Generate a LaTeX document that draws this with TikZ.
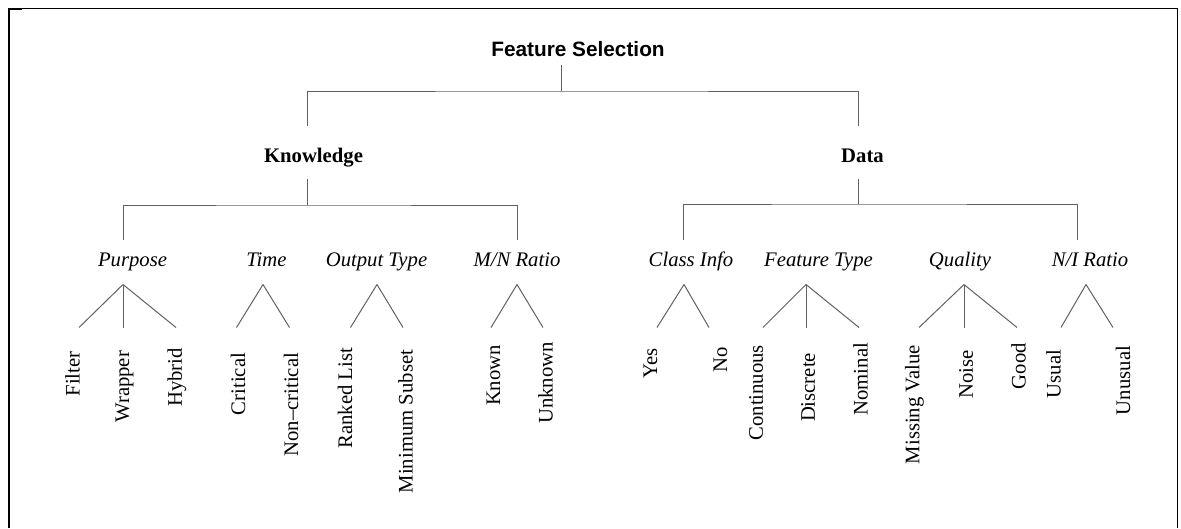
\documentclass[tikz,border=0pt]{standalone}
\usepackage{fontspec}
\setmainfont{Liberation Serif}
\newfontfamily\headfont{Liberation Sans}
\begin{document}
\begin{tikzpicture}[x=1pt,y=-1pt,
  every node/.style={inner sep=0pt, outer sep=0pt, text=black},
  rootlabel/.style={font=\headfont\bfseries\fontsize{20.8}{24}\selectfont, anchor=base},
  branchlabel/.style={font=\bfseries\fontsize{20.7}{24}\selectfont, anchor=base},
  catlabel/.style={font=\itshape\fontsize{20.7}{24}\selectfont, anchor=base},
  leaflabel/.style={font=\fontsize{20.7}{24}\selectfont, rotate=90, anchor=east},
  link/.style={draw=black!62, line width=1pt},
  frameline/.style={draw=black, line width=1.6pt}]

% page area
\useasboundingbox (0,0) rectangle (1181,528);

% open frame (left, top and right sides)
\draw[frameline] (9,528) -- (9,8.5) -- (1177.5,8.5) -- (1177.5,528);
\draw[frameline, line width=2.2pt] (8,8.8) -- (22,8.8);

% ---------- labels ----------
\node[rootlabel] (fs) at (578,56.5) {Feature Selection};
\node[branchlabel] (kn) at (313.5,162) {Knowledge};
\node[branchlabel] (da) at (862.5,162) {Data};

\node[catlabel] (pur) at (132.5,266.5) {Purpose};
\node[catlabel] (tim) at (266.5,266.5) {Time};
\node[catlabel] (out) at (376.5,266.5) {Output Type};
\node[catlabel] (mn)  at (517,266.5)   {M/N Ratio};
\node[catlabel] (ci)  at (691,266.5)   {Class Info};
\node[catlabel] (ft)  at (818.5,266.5) {Feature Type};
\node[catlabel] (qu)  at (960,266.5)   {Quality};
\node[catlabel] (ni)  at (1090,266.5)  {N/I Ratio};

\node[leaflabel] (filter)  at (72.5,351.5)  {Filter};
\node[leaflabel] (wrapper) at (124.5,351)   {Wrapper};
\node[leaflabel] (hybrid)  at (177,348)     {Hybrid};
\node[leaflabel] (crit)    at (238,353)     {Critical};
\node[leaflabel] (ncrit)   at (291,353)     {Non--critical};
\node[leaflabel] (ranked)  at (345,348)     {Ranked List};
\node[leaflabel] (minsub)  at (405.5,350)   {Minimum Subset};
\node[leaflabel] (known)   at (493.5,345)   {Known};
\node[leaflabel] (unknown) at (545.5,342)   {Unknown};
\node[leaflabel] (yes)     at (650.5,348)   {Yes};
\node[leaflabel] (no)      at (720.5,347)   {No};
\node[leaflabel] (cont)    at (756,345)     {Continuous};
\node[leaflabel] (disc)    at (808,353)     {Discrete};
\node[leaflabel] (nomi)    at (860.5,343)   {Nominal};
\node[leaflabel] (missing) at (914.5,345)   {Missing Value};
\node[leaflabel] (noise)   at (966,350)     {Noise};
\node[leaflabel] (good)    at (1018.5,343)  {Good};
\node[leaflabel] (usual)   at (1053.5,350)  {Usual};
\node[leaflabel] (unusual) at (1123,346)    {Unusual};

% ---------- connector end points ----------
\coordinate (fs-s) at (561,65);
\coordinate (kn-n) at (307,126);
\coordinate (da-n) at (858.6,126);
\coordinate (kn-s) at (307,179);
\coordinate (da-s) at (858.6,179);
\coordinate (pur-n) at (123,240);
\coordinate (mn-n)  at (517,240);
\coordinate (ci-n)  at (683,240);
\coordinate (ni-n)  at (1077,240);

% apexes of the fans under the category labels
\coordinate (pur-a) at (123,284.5);
\coordinate (tim-a) at (263,284.5);
\coordinate (out-a) at (377,284.5);
\coordinate (mn-a)  at (517,284.5);
\coordinate (ci-a)  at (684,284.5);
\coordinate (ft-a)  at (806,284.5);
\coordinate (qu-a)  at (964,284.5);
\coordinate (ni-a)  at (1086,284.5);

% free ends of the fan legs
\coordinate (filter-n)  at (79,327.5);
\coordinate (wrapper-n) at (123,327.5);
\coordinate (hybrid-n)  at (176,327.5);
\coordinate (crit-n)    at (236.5,327.5);
\coordinate (ncrit-n)   at (289.5,327.5);
\coordinate (ranked-n)  at (350.5,327.5);
\coordinate (minsub-n)  at (403,327.5);
\coordinate (known-n)   at (491,327.5);
\coordinate (unknown-n) at (543,327.5);
\coordinate (yes-n)     at (657,327.5);
\coordinate (no-n)      at (709,327.5);
\coordinate (cont-n)    at (763,327.5);
\coordinate (disc-n)    at (806,327.5);
\coordinate (nomi-n)    at (859,327.5);
\coordinate (missing-n) at (919,327.5);
\coordinate (noise-n)   at (964,327.5);
\coordinate (good-n)    at (1017,327.5);
\coordinate (usual-n)   at (1061,327.5);
\coordinate (unusual-n) at (1113,327.5);

% ---------- bracket connectors ----------
\draw[link] (fs-s) -- ++(0,26) coordinate (fs-j);
\draw[link] (kn-n) |- (fs-j) -| (da-n);

\draw[link] (kn-s) -- ++(0,26) coordinate (kn-j);
\draw[link] (pur-n) |- (kn-j) -| (mn-n);

\draw[link] (da-s) -- ++(0,25) coordinate (da-j);
\draw[link] (ci-n) |- (da-j) -| (ni-n);

% ---------- fans ----------
\foreach \a/\b in {pur/filter, pur/wrapper, pur/hybrid,
                   tim/crit, tim/ncrit,
                   out/ranked, out/minsub,
                   mn/known, mn/unknown,
                   ci/yes, ci/no,
                   ft/cont, ft/disc, ft/nomi,
                   qu/missing, qu/noise, qu/good,
                   ni/usual, ni/unusual}
  \draw[link] (\a-a) -- (\b-n);

\end{tikzpicture}
\end{document}
